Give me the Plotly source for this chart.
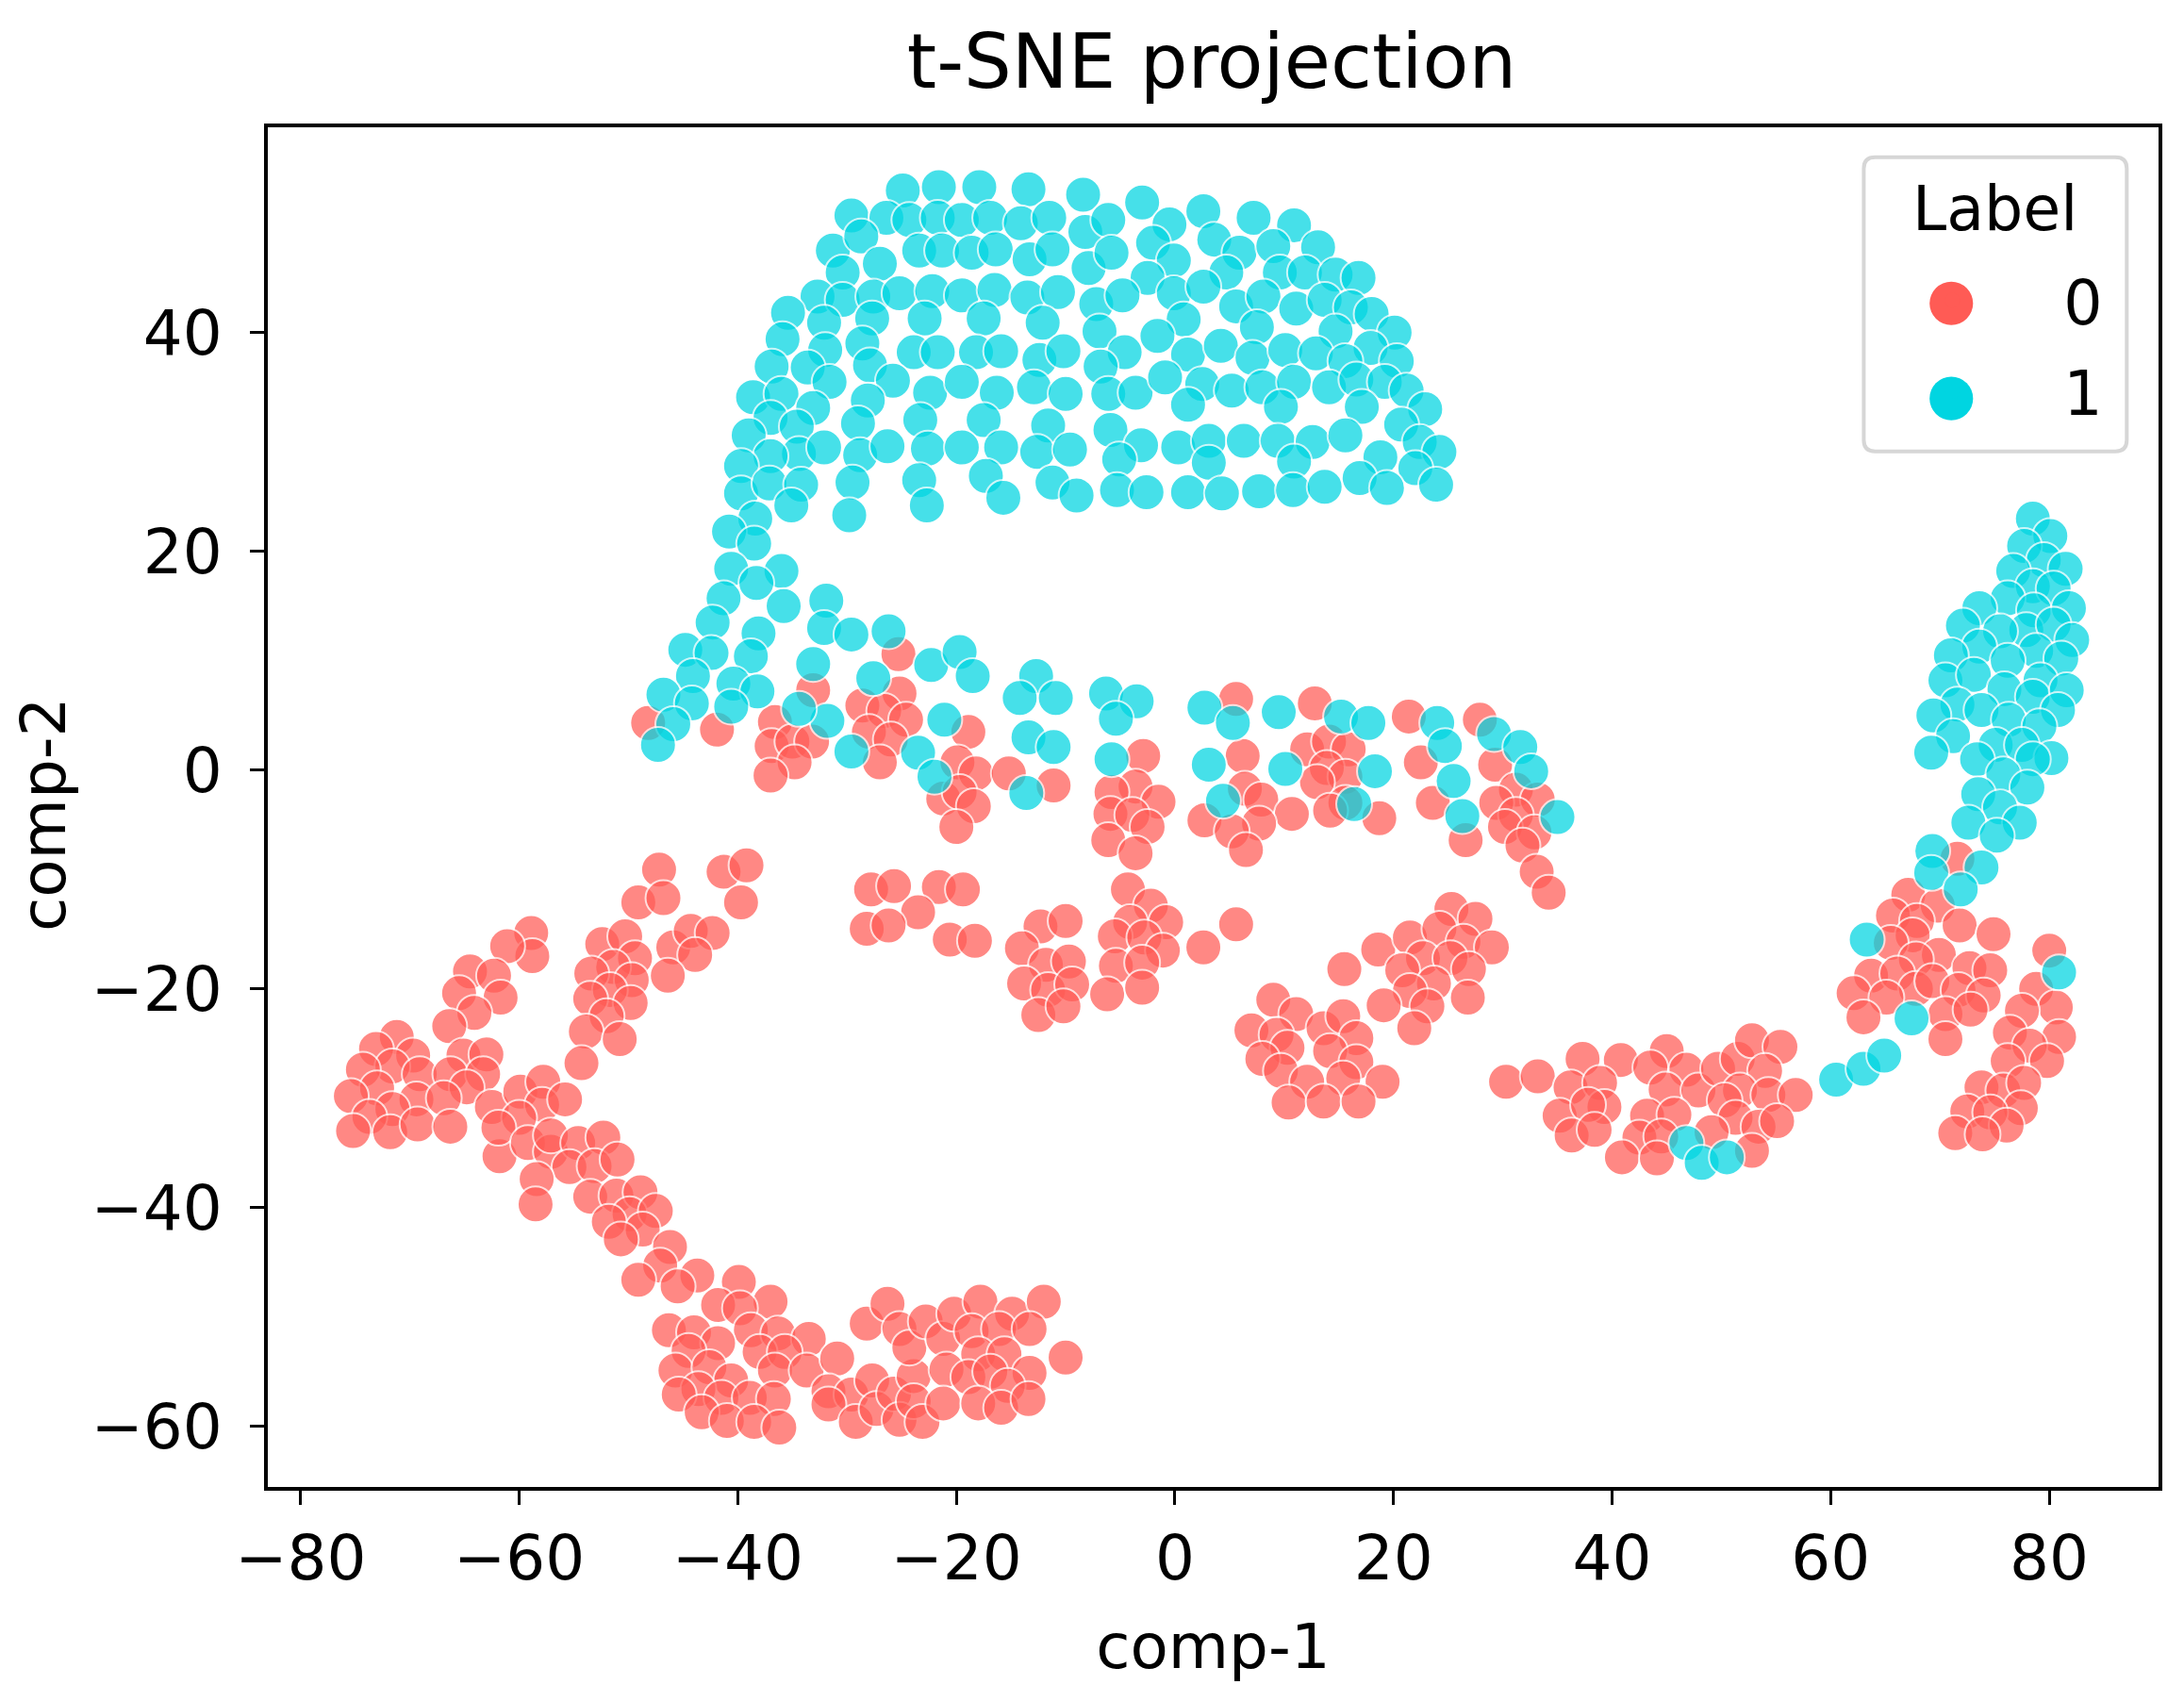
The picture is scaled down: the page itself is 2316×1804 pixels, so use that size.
import plotly.graph_objects as go

# ---- Label 1 (cyan) -----------------------------------------------------
label1_dome = [
(-24.9,53.0),(-21.6,53.3),(-17.9,53.3),(-13.4,53.1),(-8.4,52.6),(-3.0,51.9),(2.6,51.1),(7.2,50.5),(10.9,49.8),
(-29.6,50.7),(-26.4,50.5),(-24.3,50.3),(-21.7,50.5),(-19.5,50.3),(-16.9,50.5),(-14.1,50.0),(-11.5,50.5),(-8.2,49.2),(-6.1,50.3),(-0.5,49.9),(-2.0,48.2),(3.6,48.5),(5.9,47.3),(9.0,47.9),(13.1,47.8),
(-31.3,47.5),(-28.7,48.8),(-27.0,46.3),(-30.4,45.5),(-23.4,47.5),(-21.3,47.5),(-18.6,47.3),(-16.4,47.6),(-13.3,46.7),(-11.2,47.6),(-7.9,45.9),(-5.8,47.3),(-0.1,46.6),(-2.5,45.0),(4.7,45.5),(9.6,45.5),(11.9,45.5),(14.7,45.3),(16.8,45.0),
(-32.7,43.3),(-30.4,43.0),(-27.6,43.3),(-25.2,43.6),(-22.2,43.8),(-19.5,43.4),(-16.5,43.9),(-13.5,43.2),(-10.7,43.7),(-7.2,42.6),(-4.8,43.4),(-0.1,43.6),(2.6,44.2),(5.6,42.4),(8.1,43.3),(11.1,42.2),(13.7,43.0),(16.1,42.3),(18.0,41.7),
(-35.4,41.8),(-32.1,40.9),(-27.7,41.3),(-22.9,41.3),(-17.5,41.3),(-12.1,40.9),(-6.9,40.1),(0.8,41.2),(-1.6,39.7),(7.5,40.5),(14.7,40.1),(20.1,40.0),
(-35.9,39.4),(-32.0,38.4),(-28.6,39.0),(-23.9,38.2),(-21.7,38.2),(-18.2,38.2),(-15.9,38.3),(-12.4,37.5),(-10.2,38.3),(-4.6,38.2),(-6.8,36.9),(1.2,38.0),(4.2,38.8),(7.1,37.7),(10.1,38.4),(12.9,38.1),(17.9,38.6),(15.6,37.4),(20.3,37.4),
(-36.9,36.9),(-33.6,36.8),(-31.6,35.5),(-27.9,37.0),(-25.8,35.6),(-22.4,34.5),(-19.5,35.5),(-16.3,34.5),(-12.9,35.0),(-10.0,34.4),(-6.1,34.4),(-3.6,34.5),(-0.9,35.9),(2.5,35.3),(5.2,34.7),(8.0,35.0),(10.9,35.5),(14.1,35.0),(16.6,35.7),(19.2,35.5),(21.2,34.7),
(-38.6,34.1),(-36.0,34.4),(-33.1,33.1),(-28.1,33.8),(-23.3,32.0),(-17.5,32.0),(-11.6,31.5),(1.2,33.4),(9.7,33.2),(17.1,33.2),(22.9,33.0),
(-37.0,32.2),(-39.0,30.6),(-34.6,31.4),(-29.0,31.7),(-5.9,31.1),(20.7,31.6),
(-34.4,28.9),(-32.1,29.5),(-37.0,28.7),(-28.8,28.8),(-26.3,29.6),(-22.6,29.4),(-19.5,29.5),(-15.9,29.5),(-12.6,29.1),(-9.6,29.3),(-3.1,29.7),(0.3,29.5),(3.1,30.1),(6.3,30.1),(9.4,30.1),(12.6,30.0),(15.6,30.6),(18.8,28.6),(22.4,30.0),(24.2,29.1),
(-39.7,27.8),(-5.1,28.4),(3.1,28.1),(10.9,28.2),(16.9,26.7),(22.0,27.6),
(-39.7,25.3),(-37.1,26.2),(-34.2,26.1),(-29.5,26.3),(-23.4,26.5),(-17.3,26.9),(-11.2,26.3),(-9.0,25.1),(-15.7,24.9),(-5.3,25.6),(-2.6,25.4),(1.2,25.4),(4.3,25.3),(7.7,25.5),(10.8,25.6),(13.7,25.9),(19.4,25.8),(23.9,26.1),
(-35.1,24.2),(-38.4,23.0),(-29.8,23.3),(-22.7,24.2),(-40.8,21.8),(-38.5,20.7),(-40.6,18.4),(-36.0,18.2),(-38.3,17.1),
]
label1_band = [
(-35.8,15.0),(-41.3,15.7),(-31.9,15.5),(-42.3,13.5),(-32.1,13.0),(-29.6,12.4),(-26.2,12.7),(-38.1,12.5),(-44.8,11.0),(-42.4,10.7),(-38.8,10.4),
(-22.3,9.6),(-19.7,10.8),(-18.5,8.6),(-33.1,9.7),(-44.1,8.6),(-40.4,7.9),(-38.2,7.2),(-27.6,8.4),(-46.8,6.9),(-44.2,6.1),(-45.9,4.2),(-40.6,5.8),(-31.8,4.5),(-34.4,5.6),(-47.3,2.3),(-29.6,1.7),(-23.5,1.6),(-21.1,4.6),(-22.0,-0.6),
(-13.6,-2.1),(-12.7,8.6),(-14.2,6.6),(-10.9,6.6),(-13.4,3.0),(-11.1,2.1),(-6.3,7.0),(-3.5,6.3),(-5.4,4.7),(-5.8,1.0),
(2.7,5.7),(5.3,4.3),(9.5,5.3),(15.2,4.9),(17.7,4.3),(3.1,0.5),(10.1,0.1),(18.3,-0.1),(4.4,-2.8),(16.4,-3.1),(24.0,4.3),(24.7,2.2),(29.2,3.3),(31.6,2.1),(32.6,-0.1),(25.5,-1.0),(26.3,-4.2),(35.0,-4.3),
]
label1_right = [
(78.5,23.0),(80.1,21.4),(77.7,20.5),(79.5,19.2),(81.5,18.4),(76.7,18.2),(78.5,16.8),(80.4,16.6),(76.2,15.7),(73.6,14.8),(78.6,14.6),(81.8,14.8),(72.1,13.2),(77.9,12.8),(80.4,13.3),(75.5,12.7),(82.1,11.9),(73.6,11.3),(71.0,10.5),(78.8,10.9),(76.2,10.0),(81.1,10.2),(70.5,8.2),(73.1,8.7),(79.2,8.2),(75.9,7.4),(78.5,6.7),(81.6,7.3),(71.6,6.0),(73.8,5.5),(76.3,4.6),(80.8,5.5),(69.4,5.0),(79.1,4.0),(71.2,3.1),(75.1,2.3),(77.5,2.3),(69.2,1.6),(80.2,1.1),(73.4,1.0),(78.5,1.0),(75.8,-0.4),(78.0,-1.6),(73.5,-2.2),(75.5,-3.4),(72.6,-4.8),(77.3,-4.8),(75.2,-6.0),
(69.3,-7.4),(69.2,-9.4),(73.8,-8.9),(71.9,-10.9),
]
label1_strays = [
(46.8,-34.1),(48.2,-35.9),(50.5,-35.4),(60.5,-28.3),(63.0,-27.3),(64.9,-26.1),(67.4,-22.7),(63.3,-15.5),(80.9,-18.5),
]

# ---- Label 0 (red) ------------------------------------------------------
label0_band = [
(-25.3,10.6),(-33.1,7.3),(-25.2,7.0),(-28.6,5.9),(-26.6,5.4),(-24.6,4.6),(-48.2,4.3),(-41.9,3.7),(-36.6,4.4),(-28.0,3.5),(-26.0,2.8),(-18.9,3.5),(-36.9,2.2),(-35.0,2.6),(-33.2,2.6),(-27.0,0.7),(-19.9,0.7),(-18.2,-0.3),(-15.2,-0.3),(-34.8,0.7),(-37.0,-0.5),(-11.1,-1.4),(-21.2,-2.6),(-19.7,-2.0),(-18.4,-3.3),(-20.0,-5.2),
(-2.9,1.3),(-3.6,-1.5),(-5.8,-2.0),(-1.5,-2.9),(-5.9,-4.0),(-3.9,-4.1),(-2.5,-5.2),(-6.1,-6.4),(-3.6,-7.6),
(5.6,6.5),(6.2,1.3),(6.4,-1.7),(7.9,-2.7),(10.7,-4.0),(7.7,-4.9),(2.7,-4.6),(5.2,-5.6),(6.5,-7.3),
(12.8,6.1),(12.1,1.9),(14.1,2.6),(15.9,1.9),(13.9,0.2),(15.6,-0.6),(13.0,-1.1),(15.6,-3.0),(14.2,-3.7),(18.7,-4.4),
(21.4,4.9),(27.9,4.6),(22.5,0.7),(29.3,0.5),(31.2,-1.8),(23.6,-3.0),(29.4,-3.0),(33.2,-2.7),(31.2,-4.1),(30.2,-5.2),(26.6,-6.4),(32.9,-5.7),(31.8,-6.9),(33.1,-9.3),(34.2,-11.2),
]
label0_middle = [
(-27.8,-10.9),(-25.7,-10.6),(-21.6,-10.7),(-19.4,-10.9),(-23.5,-13.0),(-28.2,-14.5),(-26.2,-14.2),(-20.6,-15.5),(-18.3,-15.6),
(-12.3,-14.3),(-10.0,-13.8),(-14.0,-16.3),(-11.8,-17.8),(-9.7,-17.5),(-13.8,-19.5),(-11.6,-20.1),(-9.4,-19.6),(-12.5,-22.4),(-10.2,-21.6),
(-4.3,-10.9),(-2.2,-12.4),(-4.1,-13.9),(-0.8,-13.9),(-5.5,-15.2),(-2.8,-15.3),(-1.1,-16.5),(-5.4,-17.9),(-3.0,-17.6),(-6.2,-20.5),(-3.0,-19.9),(2.6,-16.2),(5.6,-14.1),
(9.0,-21.0),(11.1,-22.3),(7.0,-23.8),(9.3,-24.2),(10.3,-25.4),(8.0,-26.4),(9.7,-27.5),(12.1,-28.5),(13.6,-23.6),(15.4,-22.5),(16.6,-24.5),(14.2,-25.7),(16.6,-26.7),(15.4,-28.2),(19.0,-28.5),(10.4,-30.4),(13.6,-30.3),(16.8,-30.3),
(15.5,-18.2),(18.6,-16.4),(21.5,-15.3),(25.3,-12.7),(27.5,-13.6),(24.2,-14.5),(26.4,-15.7),(29.0,-16.2),(22.7,-17.2),(25.2,-17.2),(20.8,-18.3),(26.9,-18.2),(23.7,-19.5),(21.5,-20.2),(26.8,-20.8),(23.1,-21.6),(19.1,-21.5),(21.9,-23.6),
]
label0_lower_right = [
(30.3,-28.5),(33.2,-28.0),(37.3,-26.4),(40.8,-26.5),(36.2,-29.0),(38.9,-28.6),(39.3,-30.8),(35.2,-31.6),(37.8,-30.6),(36.3,-33.4),(38.4,-32.9),
(45.0,-25.7),(43.5,-27.2),(46.8,-27.4),(44.9,-29.2),(47.9,-29.3),(43.2,-31.6),(45.7,-31.5),(42.5,-33.6),(44.5,-33.5),(40.9,-35.4),(44.1,-35.5),(49.7,-27.3),(51.5,-26.4),(52.8,-24.7),(55.4,-25.3),(54.0,-27.5),(51.7,-29.3),(50.3,-30.2),(54.3,-29.7),(56.8,-29.7),(51.3,-31.8),(53.4,-32.6),(55.1,-32.1),(49.1,-33.1),(52.8,-34.8),
(71.6,-8.1),(67.1,-11.4),(69.8,-12.4),(65.7,-13.3),(67.9,-13.8),(67.5,-15.1),(71.8,-14.2),(74.9,-15.0),(65.5,-15.8),(69.9,-16.9),(67.8,-17.3),(72.7,-18.1),(74.6,-18.3),(63.7,-18.8),(66.1,-18.6),(67.8,-20.0),(69.3,-19.3),(62.1,-20.4),(65.1,-20.8),(71.7,-20.1),(74.0,-20.6),(63.0,-22.6),(70.5,-22.3),(72.8,-21.9),(70.5,-24.6),
(80.0,-16.5),(78.8,-20.0),(80.6,-21.7),(77.5,-22.0),(76.4,-24.0),(80.9,-24.4),(78.2,-25.2),(76.2,-26.6),(79.8,-26.6),(73.8,-29.0),(75.8,-29.3),(77.7,-28.6),(77.4,-30.9),(72.5,-31.2),(74.6,-31.3),(76.1,-32.5),(71.4,-33.2),(73.9,-33.3),
]
label0_left_arm = [
(-47.2,-9.1),(-49.1,-12.1),(-46.8,-11.7),(-41.3,-9.3),(-39.2,-8.7),(-39.7,-12.1),(-58.9,-14.9),(-58.8,-17.0),(-61.1,-16.1),(-64.5,-18.4),(-62.3,-18.8),(-61.7,-20.8),(-65.5,-20.4),(-64.1,-22.2),(-66.4,-23.4),
(-52.4,-15.9),(-50.3,-15.2),(-49.4,-17.2),(-51.4,-18.0),(-53.4,-18.6),(-49.7,-19.2),(-51.7,-20.1),(-53.5,-20.9),(-49.8,-21.3),(-52.0,-22.5),(-53.9,-23.9),(-50.8,-24.6),(-54.3,-26.8),(-45.9,-16.2),(-44.3,-14.7),(-42.3,-14.9),(-43.9,-16.9),(-46.4,-18.8),
(-71.2,-24.4),(-73.1,-25.5),(-69.7,-26.1),(-71.6,-27.1),(-74.3,-27.4),(-69.1,-27.8),(-65.1,-26.1),(-63.0,-26.0),(-66.3,-27.8),(-63.3,-27.8),(-64.8,-29.0),(-73.0,-29.1),(-75.4,-29.8),(-69.4,-30.1),(-66.9,-30.0),(-62.5,-30.8),(-59.9,-29.4),(-57.8,-28.5),(-57.9,-30.6),(-55.8,-30.1),(-60.0,-31.8),(-71.6,-31.0),(-73.7,-31.7),(-75.2,-33.0),(-71.8,-33.1),(-69.3,-32.4),(-66.3,-32.6),
(-61.8,-35.3),(-61.9,-32.7),(-59.2,-34.1),(-57.1,-34.9),(-57.1,-33.4),(-54.6,-34.1),(-52.3,-33.6),(-55.4,-36.3),(-53.1,-36.2),(-51.0,-35.6),(-58.4,-37.4),(-58.5,-39.7),(-53.5,-39.0),(-51.1,-38.9),(-48.9,-38.6),(-49.9,-40.6),(-47.5,-40.3),(-51.8,-41.3),(-48.7,-42.0),(-50.7,-42.9),(-46.2,-43.6),(-47.1,-45.3),(-49.1,-46.6),(-43.7,-46.2),(-45.5,-47.2),(-39.9,-46.8),
]
label0_bottom = [
(-37.0,-48.6),(-41.8,-48.9),(-39.8,-49.2),(-46.3,-51.2),(-44.0,-51.4),(-38.8,-51.2),(-36.3,-51.5),(-41.8,-52.4),(-44.5,-53.1),(-33.5,-52.0),(-38.0,-53.2),(-35.7,-53.2),(-45.7,-54.9),(-42.6,-54.6),(-36.6,-54.9),(-33.7,-54.9),(-30.9,-53.8),(-40.6,-55.8),(-43.6,-56.6),(-45.4,-57.1),(-41.5,-57.4),(-38.9,-57.4),(-36.7,-57.5),(-31.7,-56.8),(-29.6,-57.1),(-27.7,-55.8),(-31.7,-58.0),(-43.3,-58.7),(-41.0,-59.5),(-38.5,-59.6),(-36.2,-60.1),(-29.2,-59.6),(-27.3,-58.4),(-25.7,-57.0),(-25.2,-59.4),(-23.9,-55.4),(-23.9,-57.7),(-23.1,-59.6),
(-28.2,-50.6),(-26.3,-48.8),(-25.2,-51.1),(-24.3,-52.8),(-22.8,-50.4),(-21.2,-52.0),(-20.2,-49.7),(-17.8,-48.6),(-18.6,-51.3),(-14.9,-49.7),(-16.1,-51.1),(-12.0,-48.6),(-13.3,-51.1),(-18.0,-53.4),(-15.6,-53.4),(-20.9,-54.8),(-18.9,-55.5),(-16.9,-55.0),(-13.3,-55.1),(-10.0,-53.7),(-15.3,-56.3),(-21.2,-57.9),(-18.0,-57.9),(-15.9,-58.3),(-13.4,-57.5),
]

x_ticks = [-80, -60, -40, -20, 0, 20, 40, 60, 80]
y_ticks = [-60, -40, -20, 0, 20, 40]
RED = "#FF5B55"
CYAN = "#00D5E1"
FONT = "DejaVu Sans"

label0 = label0_band + label0_middle + label0_lower_right + label0_left_arm + label0_bottom
label1 = label1_dome + label1_band + label1_right + label1_strays

fig = go.Figure()
for name, pts, col in (("0", label0, RED), ("1", label1, CYAN)):
    fig.add_trace(go.Scatter(
        x=[p[0] for p in pts], y=[p[1] for p in pts], mode="markers", showlegend=False,
        marker=dict(size=38, color=col, opacity=0.72, line=dict(color="white", width=2)),
        hoverinfo="skip"))
for name, col in (("0", RED), ("1", CYAN)):
    fig.add_trace(go.Scatter(x=[None], y=[None], mode="markers", name=name, legendgroup=name,
                             marker=dict(size=16, color=col)))

x0, x1, y0, y1 = 0.8441, 0.9832, 0.7617, 0.978
rx, ry = 0.006, 0.0083
frame = (f"M {x0+rx},{y0} L {x1-rx},{y0} Q {x1},{y0} {x1},{y0+ry} L {x1},{y1-ry} Q {x1},{y1} {x1-rx},{y1} "
         f"L {x0+rx},{y1} Q {x0},{y1} {x0},{y1-ry} L {x0},{y0+ry} Q {x0},{y0} {x0+rx},{y0} Z")
shapes = [dict(type="path", xref="paper", yref="paper", path=frame, layer="above",
               fillcolor="white", line=dict(color="#D6D6D6", width=4))]
for cy, col in ((0.8705, RED), (0.8005, CYAN)):
    shapes.append(dict(type="circle", xref="paper", yref="paper", layer="above",
                       x0=0.8904-0.0115, x1=0.8904+0.0115, y0=cy-0.016, y1=cy+0.016,
                       fillcolor=col, line=dict(width=0)))

axis = dict(showline=True, linecolor="black", linewidth=4, mirror=True, ticks="outside",
            ticklen=15, tickwidth=3, tickcolor="black", showgrid=False, zeroline=False,
            tickfont=dict(family=FONT, size=66, color="black"))
fig.update_layout(
    width=2308, height=1796, autosize=False,
    margin=dict(l=276, r=27, t=127, b=227),
    plot_bgcolor="white", paper_bgcolor="white",
    font=dict(family=FONT, color="black"),
    title=dict(text="t-SNE projection", x=0.5533, xanchor="center", y=0.9837, yanchor="top",
               font=dict(family=FONT, size=80, color="black")),
    xaxis=dict(axis, range=[-83.0, 90.0], tickvals=x_ticks, automargin=False,
               title=dict(text="comp-1", font=dict(family=FONT, size=66), standoff=34)),
    yaxis=dict(axis, range=[-65.54, 58.77], tickvals=y_ticks, automargin=False, ticklabelstandoff=16),
    shapes=shapes,
    annotations=[dict(text="Label", xref="paper", yref="paper", x=0.9134, y=0.9402,
                      xanchor="center", yanchor="middle", showarrow=False,
                      font=dict(family=FONT, size=65, color="black")),
                 dict(text="comp-2", xref="paper", yref="paper", x=-0.1185, y=0.4947, textangle=-90,
                      xanchor="center", yanchor="middle", showarrow=False,
                      font=dict(family=FONT, size=66, color="black"))],
    legend=dict(x=0.8321, xanchor="left", y=0.9066, yanchor="top",
                bgcolor="rgba(0,0,0,0)", borderwidth=0, itemwidth=226, tracegroupgap=9,
                font=dict(family=FONT, size=65, color="black")),
)
fig.write_html("out.html")
